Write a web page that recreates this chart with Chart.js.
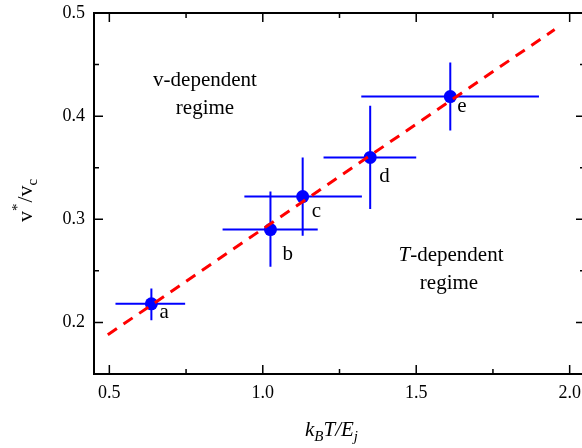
<!DOCTYPE html>
<html>
<head>
<meta charset="utf-8">
<script src="https://cdn.jsdelivr.net/npm/chart.js@4/dist/chart.umd.min.js"></script>
<style>
html,body{margin:0;padding:0;background:#fff;overflow:hidden;width:582px;height:448px;}
#wrap{width:600px;height:448px;}
</style>
</head>
<body>
<div id="wrap"><canvas id="c" width="600" height="448"></canvas></div>
<script>
// ---- data ----
const pointLabels = ['a', 'b', 'c', 'd', 'e'];
const xVals  = [0.637, 1.025, 1.130, 1.350, 1.611];
const yVals  = [0.218, 0.290, 0.322, 0.360, 0.419];
const xLow   = [0.520, 0.869, 0.940, 1.198, 1.321];
const xHigh  = [0.747, 1.179, 1.323, 1.500, 1.900];
const yLow   = [0.202, 0.254, 0.284, 0.310, 0.386];
const yHigh  = [0.233, 0.327, 0.360, 0.410, 0.452];
const fitX   = [0.495, 1.951];
const fitY   = [0.188, 0.484];
const xMajorTicks = [0.5, 1.0, 1.5, 2.0];
const xMinorTicks = [0.75, 1.25, 1.75];
const yMajorTicks = [0.2, 0.3, 0.4, 0.5];
const yMinorTicks = [0.25, 0.35, 0.45];
const xRange = [0.45, 2.05];
const yRange = [0.15, 0.5];

// ---- styling / layout (not data) ----
const SERIF = '"Liberation Serif", "DejaVu Serif", serif';
const BLUE = '#0000ff';
const RED = '#ff0000';
const labelOffsets = [[8, 14], [12, 30], [9, 20], [9, 25], [7, 15]];

function buildTicks(scale, majors, minors) {
  const all = majors.map(v => ({ value: v, major: true }))
    .concat(minors.map(v => ({ value: v, major: false })));
  all.sort((p, q) => p.value - q.value);
  scale.ticks = all;
}
function isMajor(v, majors) { return majors.some(m => Math.abs(m - v) < 1e-9); }
function zeroPad(s) { s.paddingTop = 0; s.paddingBottom = 0; s.paddingLeft = 0; s.paddingRight = 0; }

const errorBars = {
  id: 'errorBars',
  beforeDatasetsDraw(chart) {
    const ctx = chart.ctx, xs = chart.scales.x, ys = chart.scales.y;
    ctx.save();
    ctx.strokeStyle = BLUE;
    ctx.lineWidth = 2;
    for (let i = 0; i < xVals.length; i++) {
      const px = xs.getPixelForValue(xVals[i]);
      const py = ys.getPixelForValue(yVals[i]);
      ctx.beginPath();
      ctx.moveTo(xs.getPixelForValue(xLow[i]), py);
      ctx.lineTo(xs.getPixelForValue(xHigh[i]), py);
      ctx.moveTo(px, ys.getPixelForValue(yLow[i]));
      ctx.lineTo(px, ys.getPixelForValue(yHigh[i]));
      ctx.stroke();
    }
    ctx.restore();
  }
};

const decorations = {
  id: 'decorations',
  afterDraw(chart) {
    const ctx = chart.ctx, a = chart.chartArea, xs = chart.scales.x, ys = chart.scales.y;
    ctx.save();
    // frame
    ctx.strokeStyle = '#000';
    ctx.lineWidth = 2;
    ctx.strokeRect(a.left, a.top, a.right - a.left, a.bottom - a.top);
    // inward ticks
    ctx.lineWidth = 1.5;
    ctx.beginPath();
    xs.ticks.forEach(t => {
      const p = xs.getPixelForValue(t.value);
      const L = t.major ? 9 : 5;
      ctx.moveTo(p, a.bottom); ctx.lineTo(p, a.bottom - L);
      ctx.moveTo(p, a.top); ctx.lineTo(p, a.top + L);
    });
    ys.ticks.forEach(t => {
      const p = ys.getPixelForValue(t.value);
      const L = t.major ? 9 : 5;
      ctx.moveTo(a.left, p); ctx.lineTo(a.left + L, p);
      ctx.moveTo(a.right, p); ctx.lineTo(a.right - L, p);
    });
    ctx.stroke();

    // point labels
    ctx.fillStyle = '#000';
    ctx.font = '21px ' + SERIF;
    ctx.textAlign = 'left';
    ctx.textBaseline = 'alphabetic';
    for (let i = 0; i < pointLabels.length; i++) {
      const px = xs.getPixelForValue(xVals[i]);
      const py = ys.getPixelForValue(yVals[i]);
      ctx.fillText(pointLabels[i], px + labelOffsets[i][0], py + labelOffsets[i][1]);
    }

    // region annotations
    ctx.textAlign = 'center';
    ctx.font = '21px ' + SERIF;
    ctx.fillText('v-dependent', 205, 86);
    ctx.fillText('regime', 205, 114);
    // T-dependent (italic T)
    ctx.textAlign = 'left';
    const tItalic = 'italic 21px ' + SERIF, tNorm = '21px ' + SERIF;
    ctx.font = tItalic; const wT = ctx.measureText('T').width;
    ctx.font = tNorm; const wRest = ctx.measureText('-dependent').width;
    let sx = 451 - (wT + wRest) / 2;
    ctx.font = tItalic; ctx.fillText('T', sx, 261);
    ctx.font = tNorm; ctx.fillText('-dependent', sx + wT, 261);
    ctx.textAlign = 'center';
    ctx.fillText('regime', 449, 289);

    // x title: k_B T / E_j
    ctx.textAlign = 'left';
    let x = 305; const by = 436;
    const big = 'italic 21px ' + SERIF, small = 'italic 15px ' + SERIF;
    const parts = [['k', big, 0], ['B', small, 5], ['T/E', big, 0], ['j', small, 5]];
    parts.forEach(([s, f, dy]) => {
      ctx.font = f; ctx.fillText(s, x, by + dy); x += ctx.measureText(s).width;
    });

    // y title: v*/v_c rotated
    ctx.translate(32, 222);
    ctx.rotate(-Math.PI / 2);
    let tx = 0;
    const yparts = [['v', '22px ' + SERIF, 0], ['*', '15px ' + SERIF, -10], ['/', '22px ' + SERIF, 0], ['v', '22px ' + SERIF, 0], ['c', '15px ' + SERIF, 5]];
    yparts.forEach(([s, f, dy]) => {
      ctx.font = f; ctx.fillText(s, tx, dy); tx += ctx.measureText(s).width + (s === '*' ? 1 : 0);
    });
    ctx.restore();
  }
};

new Chart(document.getElementById('c'), {
  type: 'scatter',
  data: {
    datasets: [
      {
        type: 'line',
        label: 'fit',
        data: fitX.map((v, i) => ({ x: v, y: fitY[i] })),
        borderColor: RED,
        borderWidth: 3,
        borderDash: [11, 8],
        pointRadius: 0,
        fill: false,
        order: 1
      },
      {
        label: 'points',
        data: xVals.map((v, i) => ({ x: v, y: yVals[i] })),
        backgroundColor: BLUE,
        borderWidth: 0,
        pointRadius: 6.5,
        pointHoverRadius: 6.5,
        order: 2
      }
    ]
  },
  options: {
    responsive: false,
    animation: false,
    devicePixelRatio: 1,
    events: [],
    layout: { padding: { top: 13, right: 15, left: 0, bottom: 0 } },
    plugins: { legend: { display: false }, tooltip: { enabled: false }, title: { display: false } },
    scales: {
      x: {
        type: 'linear',
        min: xRange[0], max: xRange[1],
        grid: { display: false, drawTicks: false },
        border: { display: false },
        afterBuildTicks: s => buildTicks(s, xMajorTicks, xMinorTicks),
        afterFit: s => { s.height = 74; zeroPad(s); },
        ticks: {
          autoSkip: false,
          maxRotation: 0,
          padding: 8,
          color: '#000',
          font: { family: SERIF, size: 18 },
          callback: v => isMajor(v, xMajorTicks) ? v.toFixed(1) : ''
        }
      },
      y: {
        type: 'linear',
        min: yRange[0], max: yRange[1],
        grid: { display: false, drawTicks: false },
        border: { display: false },
        afterBuildTicks: s => buildTicks(s, yMajorTicks, yMinorTicks),
        afterFit: s => { s.width = 94; zeroPad(s); },
        ticks: {
          autoSkip: false,
          padding: 9,
          color: '#000',
          font: { family: SERIF, size: 18 },
          callback: v => isMajor(v, yMajorTicks) ? v.toFixed(1) : ''
        }
      }
    }
  },
  plugins: [errorBars, decorations]
});
</script>
</body>
</html>
